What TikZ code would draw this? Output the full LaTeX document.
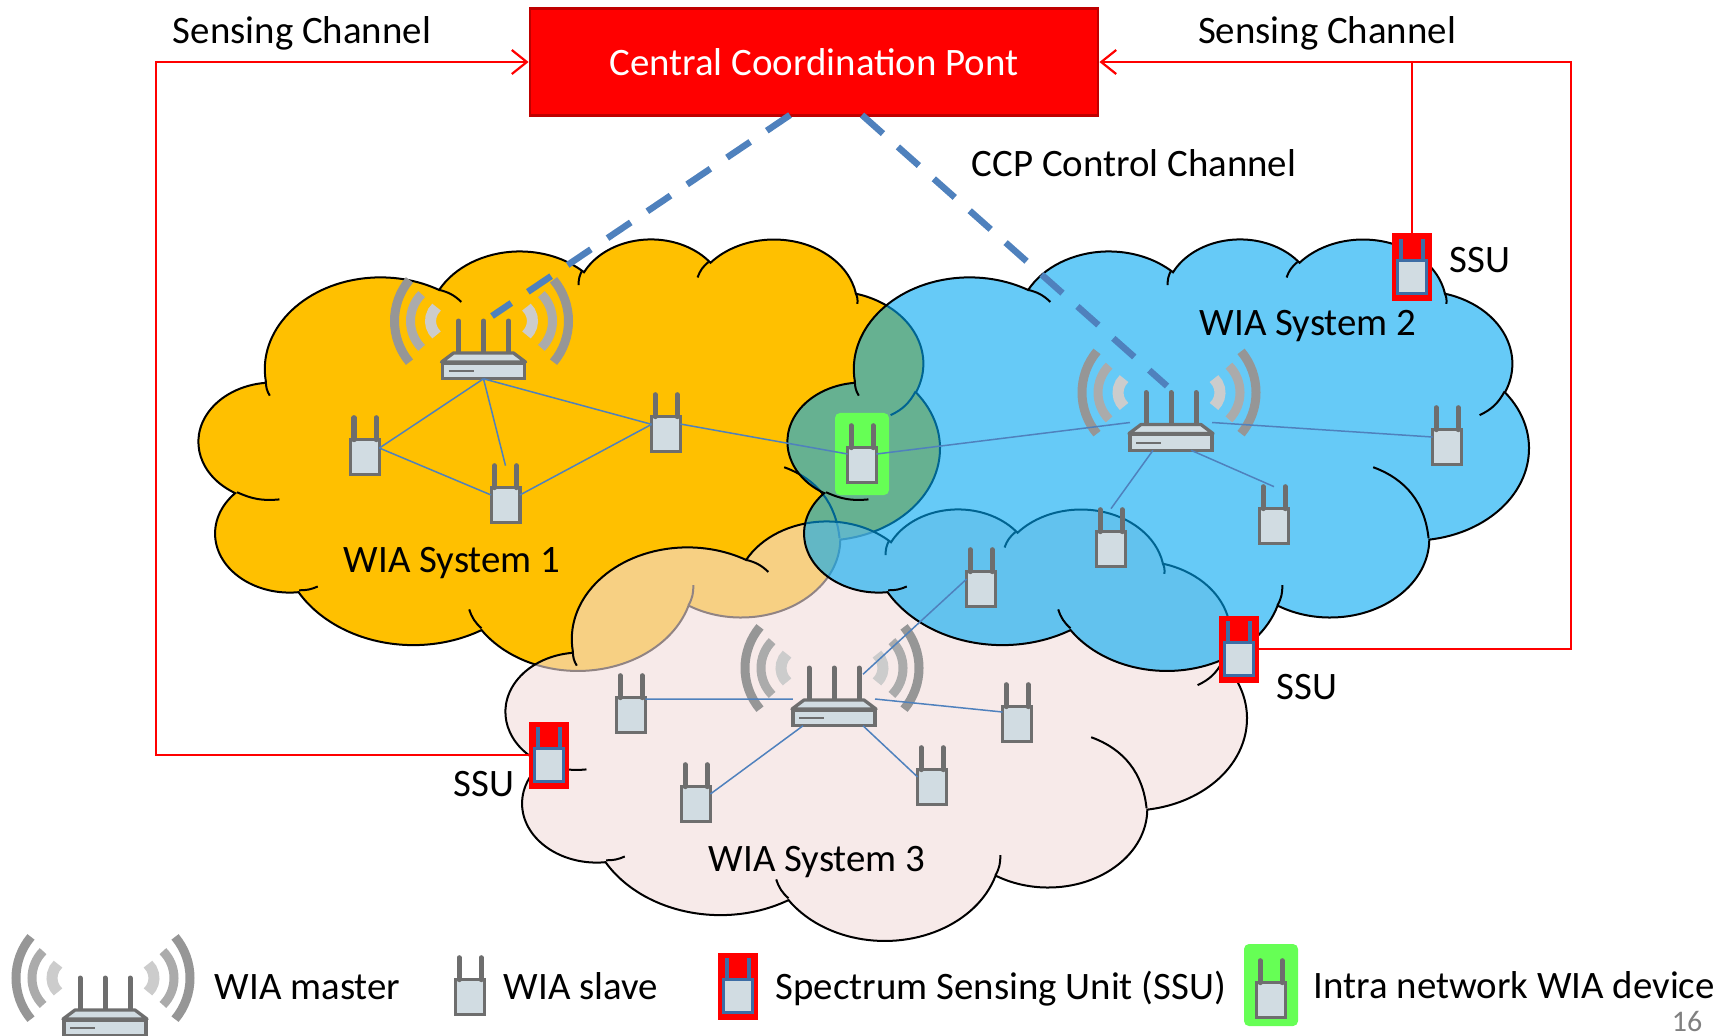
\documentclass[tikz,border=0pt]{standalone}
\usepackage{fontspec}
\setmainfont{Carlito}
\usetikzlibrary{arrows.meta}

\definecolor{wiayellow}{HTML}{FFC000}
\definecolor{wiapink}{HTML}{F2DCDB}
\definecolor{wiablue}{HTML}{00A7F2}
\definecolor{devgray}{HTML}{6E6E6E}
\definecolor{devfill}{HTML}{D1DCE2}
\definecolor{ssublue}{HTML}{3D6DA5}
\definecolor{linkblue}{HTML}{4F81BD}
\definecolor{intragreen}{HTML}{66FF55}

% one cloud outline, 740 x 431 px, top left corner at #1,#2
\newcommand{\wiacloud}[4]{
  \begin{scope}[shift={(#1,#2)}, x=.01713cm, y=-.00998cm]
    \draw[cloudline, fill=#3, fill opacity=#4] (39,143.7)
      arc[lobe={67.53}{91.90}{-190.487}{123.781}]
      arc[lobe={53.33}{72.67}{-144.102}{89.945}]
      arc[lobe={43.65}{59.45}{-145.808}{99.723}]
      arc[lobe={48.57}{65.95}{-130.986}{117.242}]
      arc[lobe={53.33}{72.73}{-78.709}{109.027}]
      arc[lobe={67.75}{92.20}{-46.267}{130.269}]
      arc[lobe={57.85}{78.67}{0.625}{114.033}]
      arc[lobe={67.52}{92.15}{22.452}{115.173}]
      arc[lobe={77.20}{105.43}{66.243}{75.711}]
      arc[lobe={43.60}{59.18}{-274.942}{146.736}]
      arc[lobe={43.45}{59.45}{-246.829}{152.519}] -- cycle;
    % inner strokes of the lobes
    \draw[cloudline] (41.27,157.89) to[bend left=15] (39,143.7);
    \draw[cloudline] (140,51.92) to[bend left=15] (153,64);
    \draw[cloudline] (221.41,47.2) to[bend left=15] (223.6,32.1);
    \draw[cloudline] (290.78,39.52) to[bend left=15] (297.1,24.06);
    \draw[cloudline] (383,55.1) to[bend left=15] (384,66);
    \draw[cloudline] (417.98,153.54) to[bend left=18] (403.4,177.4);
    \draw[cloudline] (341.29,229.54) to[bend left=32] (373.6,300.7);
    \draw[cloudline] (288.27,347.51) to[bend left=15] (285.5,367.9);
    \draw[cloudline] (164.78,390.9) to[bend left=15] (157.6,371.9);
    \draw[cloudline] (58.4,352.8) to[bend right=12] (69.28,348.99);
    \draw[cloudline] (22.2,254.6) to[bend right=15] (46.93,261.77);
  \end{scope}
}

\newcommand{\slave}[3]{
  \node[slavebody] (#1) at (#2,#3) {};
  \draw[antenna] ([xshift=-1.1mm]#1.north) -- ++(0,-22);
  \draw[antenna] ([xshift=1.1mm]#1.north) -- ++(0,-22);
}

\newcommand{\ssu}[3]{
  \node[ssubox] (#1) at (#2,#3) {};
  \node[ssubody] (#1b) at (#2,#3+10) {};
  \draw[ssuantenna] ([xshift=-1.08mm]#1b.north) -- ++(0,-22);
  \draw[ssuantenna] ([xshift=1.08mm]#1b.north) -- ++(0,-22);
}

\newcommand{\master}[3]{
  \begin{scope}[shift={(#2,#3)}]
    \foreach \sd in {-1,1} {
      \begin{scope}[shift={(-2,0)}, xscale=\sd]
        \draw[line width=.9mm, wave1] (23,-50) ++(40:64) arc[start angle=40,end angle=-40,radius=64];
        \draw[line width=.9mm, wave2] (33,-50) ++(45:38) arc[start angle=45,end angle=-45,radius=38];
        \draw[line width=1.1mm, wave3] (32,-50) ++(47:19) arc[start angle=47,end angle=-47,radius=19];
      \end{scope}
    }
    \foreach \ax in {-25,0,25}
      \draw[antenna] (\ax,-16) -- (\ax,-50);
    \draw[roofline] (-42,-9) -- (-30,-18) -- (30,-18) -- (42,-9) -- cycle;
  \end{scope}
  \node[masterbody] (#1) at (#2,#3) {};
  \begin{scope}[shift={(#2,#3)}]
    \draw[devstripe] (-35,0) -- (-10,0);
  \end{scope}
}

\begin{document}
\begin{tikzpicture}[
    x=.01cm, y=-.01cm,
    lobe/.style n args={4}{
      x radius=#1, y radius=#2,
      start angle={atan2(#1*sin(#3),#2*cos(#3))},
      delta angle={mod(atan2(#1*sin(#3+#4),#2*cos(#3+#4))-atan2(#1*sin(#3),#2*cos(#3))+720,360)}
    },
    cloudline/.style = {draw=black, line width=.2mm},
    slavebody/.style = {
      shape=rectangle, draw=devgray, fill=devfill, line width=.33mm,
      inner sep=0pt, outer sep=0pt, minimum width=2.87mm, minimum height=3.47mm
    },
    masterbody/.style = {
      shape=rectangle, draw=devgray, fill=devfill, line width=.33mm,
      inner sep=0pt, outer sep=0pt, minimum width=8.2mm, minimum height=1.55mm
    },
    antenna/.style = {draw=devgray, line width=.5mm, line cap=round},
    roofline/.style = {draw=devgray, fill=devfill, line width=.33mm, line join=round},
    devstripe/.style = {draw=devgray, line width=.2mm},
    wave1/.style = {draw=black!41},
    wave2/.style = {draw=black!33},
    wave3/.style = {draw=black!20},
    ssubox/.style = {
      shape=rectangle, draw=red, fill=red, line width=.15mm,
      inner sep=0pt, outer sep=0pt, minimum width=3.85mm, minimum height=6.55mm
    },
    ssubody/.style = {
      shape=rectangle, draw=ssublue, fill=devfill, line width=.3mm,
      inner sep=0pt, outer sep=0pt, minimum width=2.9mm, minimum height=3.3mm
    },
    ssuantenna/.style = {draw=ssublue, line width=.4mm},
    greenbox/.style = {
      shape=rectangle, fill=intragreen, rounded corners=.5mm,
      inner sep=0pt, minimum width=5.4mm, minimum height=8.2mm
    },
    ccpbox/.style = {
      shape=rectangle, draw=red!75!black, fill=red, line width=.25mm,
      minimum width=5.68cm, minimum height=1.07cm
    },
    lbl/.style = {font=\fontsize{11.05pt}{13pt}\selectfont, text=black, inner sep=0pt},
    link/.style = {draw=linkblue, line width=.15mm},
    ccplink/.style = {draw=linkblue, line width=.65mm, dash pattern=on 2.8mm off 2mm},
    sensing/.style = {draw=red, line width=.22mm},
    arrow/.style = {-{Straight Barb[length=1.5mm,width=2.4mm]}}
  ]

    \useasboundingbox (0,0) rectangle (1722,1035);
    \clip (0,0) rectangle (1722,1035);

    % Clouds
    \wiacloud{199}{238}{wiayellow}{1}
    \wiacloud{506}{508}{wiapink}{.6}
    \wiacloud{788}{238}{wiablue}{.6}

    % Central point
    \node[lbl, ccpbox, text=white] (ccp) at (814,62) {Central Coordination Pont};

    % WIA system 1
    \master{mone}{483.5}{371}
    \slave{sonea}{365}{457}
    \slave{soneb}{505.5}{505}
    \slave{sonec}{666}{434}

    % Device in both systems
    \node[greenbox] (intrabox) at (862,454) {};
    \slave{intra}{862}{465}

    % WIA system 2
    \master{mtwo}{1171}{442.5}
    \slave{stwoa}{1111}{549}
    \slave{stwob}{1274}{526}
    \slave{stwoc}{1447}{447}
    \slave{stwod}{981}{589}

    % WIA system 3
    \master{mthree}{834}{718}
    \slave{sthreea}{631}{715}
    \slave{sthreeb}{696}{804}
    \slave{sthreec}{932}{787}
    \slave{sthreed}{1017}{724}

    % Sensing units
    \ssu{ssutop}{1412}{267}
    \ssu{ssumid}{1239}{649}
    \ssu{ssuleft}{549}{755}

    % Links inside the systems
    \draw[link] (mone.south) -- (sonea.32);
    \draw[link] (mone.south) -- ([yshift=2.2mm]soneb.north);
    \draw[link] (mone.south) -- (sonec.146);
    \draw[link] (sonea.32) -- ([yshift=1mm]soneb.west);
    \draw[link] ([yshift=1mm]soneb.east) -- (sonec.146);
    \draw[link] ([yshift=1mm]sonec.east) -- ([yshift=1.1mm]intra.west);
    \draw[link] ([yshift=1.1mm]intra.east) -- ([yshift=2mm]mtwo.west);
    \draw[link] ([yshift=2mm]mtwo.east) -- ([yshift=1mm]stwoc.west);
    \draw[link] ([xshift=-1.8mm]mtwo.south) -- ([yshift=2.3mm]stwoa.north);
    \draw[link] ([xshift=2mm]mtwo.south) -- ([yshift=2.2mm]stwob.north);
    \draw[link] ([yshift=1mm]stwod.west) -- ([xshift=2.9mm,yshift=3.6mm]mthree.north);
    \draw[link] ([yshift=1.6mm]sthreea.east) -- ([yshift=1.9mm]mthree.west);
    \draw[link] ([yshift=1.9mm]mthree.east) -- ([yshift=1.2mm]sthreed.west);
    \draw[link] ([xshift=-3.1mm]mthree.south) -- ([yshift=1mm]sthreeb.east);
    \draw[link] ([xshift=2.9mm]mthree.south) -- ([yshift=1mm]sthreec.west);

    % CCP control channel
    \coordinate (ccpa) at (790,115);
    \coordinate (ccpb) at (862,115);
    \coordinate (mastera) at (492,316);
    \coordinate (masterb) at (1167,386);
    \draw[ccplink] (ccpa) -- (mastera);
    \draw[ccplink] (ccpb) -- (masterb);

    % Sensing channels
    \coordinate (cornerl) at (156,62);
    \coordinate (cornerr) at (1571,62);
    \draw[sensing, arrow] (ssuleft.west) -| (cornerl) -- (ccp.west);
    \draw[sensing, arrow] (ssumid.east) -| (cornerr) -- (ccp.east);
    \draw[sensing] (ssutop.north) -- (ssutop.north |- ccp.east);

    % Labels
    \node[lbl] (sensl) at (302,33) {Sensing Channel};
    \node[lbl] (sensr) at (1327,33) {Sensing Channel};
    \node[lbl] (ctrl) at (1134,163) {CCP Control Channel};
    \node[lbl] (labtop) at (1480,260) {SSU};
    \node[lbl] (labmid) at (1307,687) {SSU};
    \node[lbl] (lableft) at (484,784) {SSU};
    \node[lbl] (sysone) at (452,563) {WIA System 1};
    \node[lbl] (systwo) at (1308,326) {WIA System 2};
    \node[lbl] (systhree) at (817,862) {WIA System 3};

    % Legend
    \master{legm}{105}{1028}
    \slave{legs}{470}{997}
    \ssu{legssu}{738}{986}
    \node[greenbox] (legbox) at (1271,985) {};
    \slave{legi}{1271}{1000}
    \node[lbl, anchor=base west] (legmt) at (214,999) {WIA master};
    \node[lbl, anchor=base west] (legst) at (503,999) {WIA slave};
    \node[lbl, anchor=base west] (legut) at (775,999) {Spectrum Sensing Unit (SSU)};
    \node[lbl, anchor=base west] (legit) at (1313,998) {Intra network WIA device};
    \node[lbl, text=black!50, font=\fontsize{8.5pt}{10pt}\selectfont] (pagenr) at (1687,1021) {16};

\end{tikzpicture}
\end{document}
